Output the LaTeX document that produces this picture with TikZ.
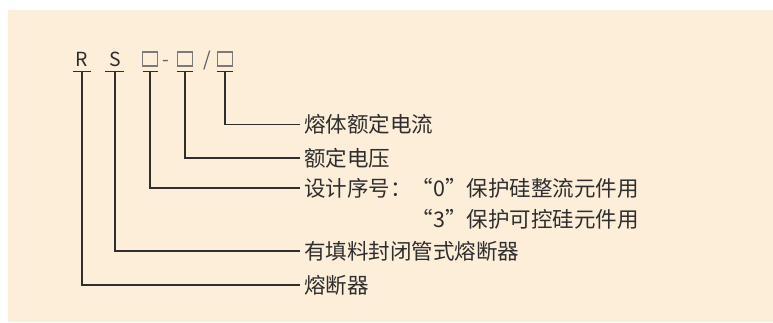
\documentclass[tikz,border=0pt]{standalone}
\usepackage{fontspec}
\newfontfamily\cjk{Noto Sans CJK SC}
\definecolor{bgpeach}{HTML}{FDEEDA}
\definecolor{ink}{HTML}{2E2E2E}
\definecolor{boxgray}{HTML}{7A7A7A}
\begin{document}
\begin{tikzpicture}[x=1bp,y=-1bp,
  lbl/.style={anchor=west,inner xsep=4bp,inner ysep=0pt,text=ink,font=\cjk\fontsize{21.6}{25}\selectfont},
  code/.style={anchor=base,inner sep=0pt,text=ink,font=\cjk\fontsize{19.5}{22}\selectfont},
  slot/.style={draw=boxgray,line width=1.1bp,minimum width=14.5bp,minimum height=14bp,inner sep=0pt},
  conn/.style={draw=ink,line width=1.4bp},
  uline/.style={draw=ink,line width=1.4bp}]
\useasboundingbox (0,0) rectangle (773,322);
\fill[bgpeach] (8,10) rectangle (773,322);
% code letters
\node[code] (r) at (82,66) {R};
\node[code] (s) at (115,66) {S};
\node[slot] (b1) at (150,59) {};
\node[code,text=boxgray!70!ink] (dash) at (166,66) {-};
\node[slot] (b2) at (185,59) {};
\node[code,text=boxgray!60!ink] (slash) at (207,66) {/};
\node[slot] (b3) at (225,59) {};
% underline anchor points
\coordinate (ur) at (82,71.5);
\coordinate (us) at (115,71.5);
\coordinate (u1) at (150,71.5);
\coordinate (u2) at (185,71.5);
\coordinate (u3) at (225,71.5);
\draw[uline] ([xshift=-9bp]ur) -- ([xshift=8.5bp]ur);
\draw[uline] ([xshift=-10bp]us) -- ([xshift=9bp]us);
\draw[uline] ([xshift=-7.5bp]u1) -- ([xshift=7.5bp]u1);
\draw[uline] ([xshift=-8bp]u2) -- ([xshift=8bp]u2);
\draw[uline] ([xshift=-8bp]u3) -- ([xshift=8bp]u3);
% labels
\node[lbl] (t3) at (300,124.3) {熔体额定电流};
\node[lbl] (t2) at (300,157.8) {额定电压};
\node[lbl] (t1) at (300,188) {设计序号：“0”保护硅整流元件用};
\node[lbl] (t1b) at (300,219) {\phantom{设计序号：}“3”保护可控硅元件用};
\node[lbl] (ts) at (300,251) {有填料封闭管式熔断器};
\node[lbl] (tr) at (300,285) {熔断器};
% connectors
\draw[conn] (u3) |- (t3.west);
\draw[conn] (u2) |- (t2.west);
\draw[conn] (u1) |- (t1.west);
\draw[conn] (us) |- (ts.west);
\draw[conn] (ur) |- (tr.west);
\end{tikzpicture}
\end{document}
